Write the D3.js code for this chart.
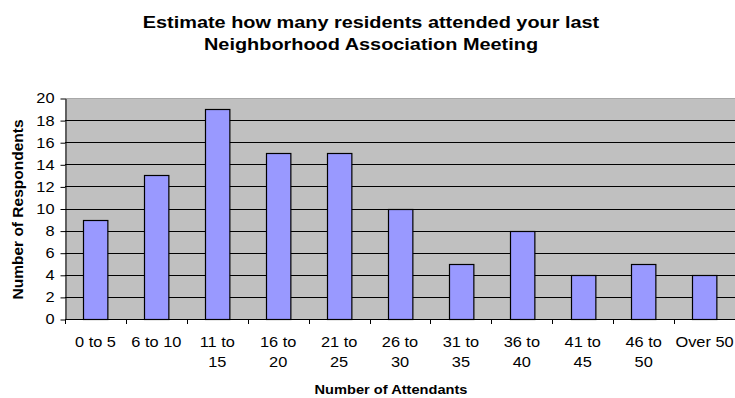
<!DOCTYPE html>
<html>
<head>
<meta charset="utf-8">
<script src="https://cdn.jsdelivr.net/npm/d3@7"></script>
<style>
  html, body { margin: 0; padding: 0; background: #fff; }
  svg { display: block; font-family: Arial, "Liberation Sans", sans-serif; }
</style>
</head>
<body>
<svg id="chart" width="735" height="398"></svg>
<script>
// Survey responses: residents at the last neighborhood association meeting
const categories = ["0 to 5", "6 to 10", "11 to 15", "16 to 20", "21 to 25", "26 to 30",
                    "31 to 35", "36 to 40", "41 to 45", "46 to 50", "Over 50"];
const respondents = [9, 13, 19, 15, 15, 10, 5, 8, 4, 5, 4];
const yTicks = [0, 2, 4, 6, 8, 10, 12, 14, 16, 18, 20];
const titleLines = ["Estimate how many residents attended your last",
                    "Neighborhood Association Meeting"];

const FONT = "Arial, 'Liberation Sans', sans-serif";
const SX = 1.17;   // horizontal stretch of the chart's text

const svg = d3.select("#chart");
const plot = { left: 65, right: 735, top: 98, bottom: 319 };

const x = d3.scaleBand()
  .domain(categories)
  .range([plot.left, plot.right])
  .paddingInner(0.6)
  .paddingOuter(0.3);

const y = d3.scaleLinear()
  .domain([0, 20])
  .range([plot.bottom, plot.top]);

// text helper: horizontally stretched label anchored at (tx, ty)
function label(parent, tx, ty, str, size, weight, anchor, sx) {
  return parent.append("text")
    .attr("transform", `translate(${tx},${ty}) scale(${sx},1)`)
    .attr("font-family", FONT)
    .attr("font-size", size)
    .attr("font-weight", weight)
    .attr("text-anchor", anchor)
    .attr("fill", "#000")
    .text(str);
}

// plot background
svg.append("rect")
  .attr("x", plot.left).attr("y", plot.top)
  .attr("width", plot.right - plot.left)
  .attr("height", plot.bottom - plot.top)
  .attr("fill", "#c0c0c0");

// horizontal gridlines
svg.append("g")
  .selectAll("line")
  .data(yTicks.filter(d => d > 0))
  .join("line")
  .attr("x1", plot.left).attr("x2", plot.right)
  .attr("y1", d => Math.round(y(d)) + 0.5)
  .attr("y2", d => Math.round(y(d)) + 0.5)
  .attr("stroke", d => d === 20 ? "#a8a8a8" : "#000")
  .attr("stroke-width", 1);

// bars
svg.append("g")
  .selectAll("rect")
  .data(categories)
  .join("rect")
  .attr("x", d => Math.round(x(d)) + 0.5)
  .attr("y", (d, i) => Math.round(y(respondents[i])) + 0.5)
  .attr("width", x.bandwidth())
  .attr("height", (d, i) => Math.round(y(0)) - Math.round(y(respondents[i])))
  .attr("fill", "#9999ff")
  .attr("stroke", "#000")
  .attr("stroke-width", 1.2);

// y axis
const yAxis = svg.append("g")
  .attr("transform", `translate(${plot.left + 0.5},0.5)`)
  .call(d3.axisLeft(y).tickValues(yTicks).tickSize(5).tickPadding(6).tickSizeOuter(0));
yAxis.select(".domain").attr("stroke", "#000");
yAxis.selectAll(".tick line").attr("stroke", "#000");
yAxis.selectAll("text")
  .attr("font-size", 14).attr("fill", "#000").attr("font-family", FONT)
  .attr("x", -11 / SX)
  .attr("transform", `scale(${SX},1)`);

// x axis: baseline with ticks between categories
const xBoundaries = d3.range(categories.length + 1)
  .map(i => plot.left + i * (plot.right - plot.left) / categories.length);
const xAxisG = svg.append("g");
xAxisG.append("line")
  .attr("x1", plot.left).attr("x2", plot.right)
  .attr("y1", plot.bottom + 0.5).attr("y2", plot.bottom + 0.5)
  .attr("stroke", "#000");
xAxisG.selectAll("line.tick")
  .data(xBoundaries)
  .join("line")
  .attr("class", "tick")
  .attr("x1", d => Math.round(d) + 0.5).attr("x2", d => Math.round(d) + 0.5)
  .attr("y1", plot.bottom).attr("y2", plot.bottom + 5)
  .attr("stroke", "#000");

// category labels (long ranges wrap onto two lines)
const labelG = svg.append("g");
categories.forEach(c => {
  const cx = x(c) + x.bandwidth() / 2;
  const m = c.match(/^(\d+ to) (\d+)$/);
  const lines = (m && +m[2] >= 15) ? [m[1], m[2]] : [c];
  lines.forEach((ln, i) => label(labelG, cx, 347 + i * 20, ln, 14, "normal", "middle", SX));
});

// chart title
const titleG = svg.append("g");
titleLines.forEach((t, i) => label(titleG, 371, 28 + i * 22, t, 17, "bold", "middle", SX));

// axis titles
label(svg, 391, 394, "Number of Attendants", 12.5, "bold", "middle", SX);

svg.append("text")
  .attr("transform", `translate(23,${(plot.top + plot.bottom) / 2 + 1}) rotate(-90)`)
  .attr("font-family", FONT)
  .attr("font-size", 15.5).attr("font-weight", "bold").attr("text-anchor", "middle")
  .text("Number of Respondents");
</script>
</body>
</html>
